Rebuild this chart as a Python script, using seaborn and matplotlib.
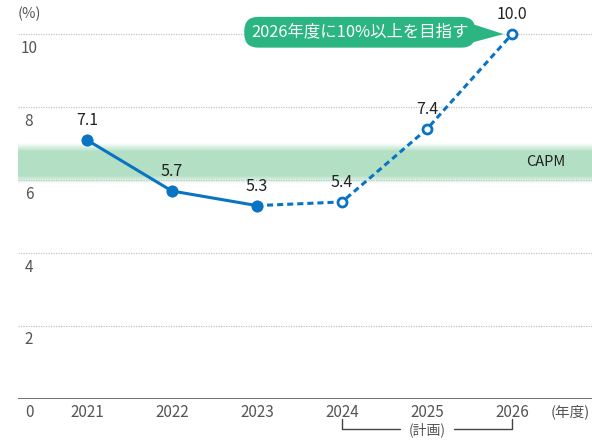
import numpy as np
import pandas as pd
import matplotlib.pyplot as plt
import seaborn as sns

years = [2021, 2022, 2023, 2024, 2025, 2026]
roe = [7.1, 5.7, 5.3, 5.4, 7.4, 10.0]
actual_years = [2021, 2022, 2023]
plan_years = [2023, 2024, 2025, 2026]
y_ticks = [2, 4, 6, 8, 10]
capm_low, capm_high = 5.9, 7.0

sns.set_style('white')
plt.rcParams['font.family'] = ['Noto Sans CJK JP', 'DejaVu Sans']

df = pd.DataFrame({'year': years, 'roe': roe})
actual = df[df['year'].isin(actual_years)]
plan = df[df['year'].isin(plan_years)]

blue = '#0a74c4'
green = '#2bb582'
label_col = '#555555'

fig = plt.figure(figsize=(5.92, 4.41), dpi=100)
ax = fig.add_axes([18 / 592, 42 / 441, 1 - 18 / 592, 389 / 441])
ax.set_xlim(2020.19, 2026.94)
ax.set_ylim(0, 10.66)

# CAPM band with soft edges
prof = np.linspace(0, 1, 100)
alpha = np.clip(np.minimum(prof, 1 - prof) / 0.2, 0, 1) * 0.85
img = np.zeros((100, 2, 4))
img[:, :, 0] = 165 / 255
img[:, :, 1] = 219 / 255
img[:, :, 2] = 186 / 255
img[:, :, 3] = alpha[:, None]
ax.imshow(img, extent=[2020.19, 2026.94, capm_low, capm_high], aspect='auto',
          origin='lower', zorder=0, interpolation='bilinear')
ax.text(2026.4, (capm_low + capm_high) / 2 + 0.05, 'CAPM', ha='center', va='center',
        fontsize=10.5, color='#222222')

for t in y_ticks:
    ax.axhline(t, color='#c4c4c4', lw=0.9, ls=(0, (1, 1)), zorder=1)
    ax.text(2020.32, t - 0.15, str(t), ha='center', va='top', fontsize=11, color=label_col)
ax.axhline(0, color='#666666', lw=1.3, zorder=1)
ax.text(2020.32, -0.15, '0', ha='center', va='top', fontsize=11, color=label_col,
        clip_on=False)
ax.text(2020.19, 10.55, '(%)', ha='left', va='center', fontsize=10.5, color=label_col)

sns.lineplot(data=actual, x='year', y='roe', color=blue, lw=2.2, ax=ax, zorder=3)
sns.lineplot(data=plan, x='year', y='roe', color=blue, lw=2.2, ls=(0, (2, 1.3)), ax=ax, zorder=3)
sns.scatterplot(data=actual, x='year', y='roe', color=blue, s=65, edgecolor=blue, ax=ax, zorder=4)
sns.scatterplot(data=plan[plan['year'] > 2023], x='year', y='roe', color='white', s=42,
                edgecolor=blue, linewidth=2, ax=ax, zorder=4)

for x, y in zip(years, roe):
    ax.text(x, y + 0.3, f'{y:.1f}', ha='center', va='bottom', fontsize=11.5, color='#222222')

for x in years:
    ax.text(x, -0.15, str(x), ha='center', va='top', fontsize=11, color=label_col,
            clip_on=False)
ax.text(2026.68, -0.15, '(年度)', ha='center', va='top', fontsize=10.5, color=label_col,
        clip_on=False)

# plan bracket
ax.plot([2024, 2024, 2024.68], [-0.55, -0.82, -0.82], color='#444444', lw=1, clip_on=False)
ax.plot([2025.32, 2026, 2026], [-0.82, -0.82, -0.55], color='#444444', lw=1, clip_on=False)
ax.text(2025, -0.85, '(計画)', ha='center', va='center', fontsize=10, color=label_col,
        clip_on=False)

# callout
ax.text(2024.21, 10.05, '2026年度に10%以上を目指す', ha='center', va='center',
        fontsize=11.8, color='white', zorder=5,
        bbox=dict(boxstyle='round,pad=0.42,rounding_size=0.85', fc=green, ec='none'))
ax.fill([2025.5, 2025.9, 2025.5], [10.3, 10.0, 9.75], color=green, lw=0, zorder=5)

ax.set_xlabel('')
ax.set_ylabel('')
ax.set_xticks([])
ax.set_yticks([])
sns.despine(ax=ax, left=True, bottom=True, right=True, top=True)

fig.savefig('out.png', dpi=100)
